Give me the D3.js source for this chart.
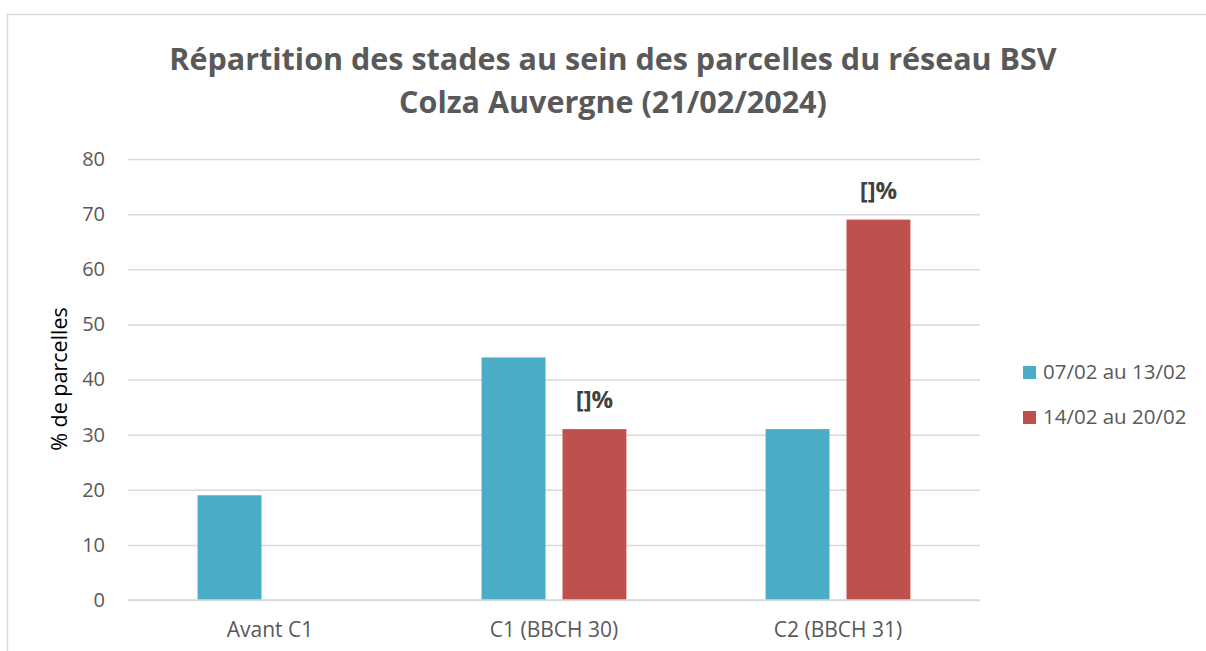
<!DOCTYPE html>
<html>
<head>
<meta charset="utf-8">
<script src="https://cdn.jsdelivr.net/npm/d3@7"></script>
<style>
  html, body { margin: 0; padding: 0; background: #fff; }
  #chart { width: 1206px; height: 651px; }
</style>
</head>
<body>
<div id="chart"></div>
<script>
// ── Data ───────────────────────────────────────
const CATEGORIES = ["Avant C1", "C1 (BBCH 30)", "C2 (BBCH 31)"];
const SERIES     = ["07/02 au 13/02", "14/02 au 20/02"];
const VALUES_S1  = [19, 44, 31];
const VALUES_S2  = [null, 31, 69];
const LABELS_S2  = [null, "[]%", "[]%"];
const Y_TICKS    = [0, 10, 20, 30, 40, 50, 60, 70, 80];
const TITLE      = ["Répartition des stades au sein des parcelles du réseau BSV",
                    "Colza Auvergne (21/02/2024)"];

const COLOR = { "07/02 au 13/02": "#4BACC6", "14/02 au 20/02": "#C0504D" };
const FONT  = "'Open Sans', sans-serif";
const TEXT  = "#595959";

const W = 1206, H = 651;
const plot = { left: 128, right: 980, top: 159, bottom: 600 };

const svg = d3.select("#chart").append("svg").attr("width", W).attr("height", H);

// Frame
svg.append("rect").attr("x", 7.5).attr("y", 14.5).attr("width", 1210).attr("height", 700)
  .attr("fill", "#fff").attr("stroke", "#D9D9D9").attr("stroke-width", 1.5);

// Title
svg.append("g").selectAll("text").data(TITLE).join("text")
  .attr("x", 613).attr("y", (d, i) => 70 + i * 43)
  .attr("text-anchor", "middle").attr("font-family", FONT)
  .attr("font-weight", "bold").attr("font-size", "30.5px").attr("fill", TEXT)
  .text(d => d);

const rows = CATEGORIES.map((c, i) => ({
  cat: c,
  bars: [
    { s: SERIES[0], v: VALUES_S1[i], label: null },
    { s: SERIES[1], v: VALUES_S2[i], label: LABELS_S2[i] }
  ]
}));

const x0 = d3.scaleBand().domain(CATEGORIES).range([plot.left, plot.right])
  .paddingInner(0.49).paddingOuter(0.245);
const x1 = d3.scaleBand().domain(SERIES).range([0, x0.bandwidth()])
  .paddingInner(0.21).paddingOuter(0);
const y = d3.scaleLinear().domain([0, 80]).range([plot.bottom, plot.top]);

// Grid
svg.append("g").attr("transform", `translate(${plot.left},0)`)
  .call(d3.axisLeft(y).tickValues(Y_TICKS).tickSize(-(plot.right - plot.left)).tickFormat(""))
  .call(g => {
    g.select(".domain").remove();
    g.selectAll(".tick line").attr("stroke", "#D9D9D9").attr("stroke-width", 1.5);
  });

// Y tick labels
svg.append("g").attr("transform", `translate(${plot.left},0)`)
  .call(d3.axisLeft(y).tickValues(Y_TICKS).tickSize(0).tickPadding(23))
  .call(g => {
    g.select(".domain").remove();
    g.selectAll("text").attr("font-family", FONT).attr("font-size", "20px").attr("fill", TEXT);
  });

// Bars
const groups = svg.append("g").selectAll("g").data(rows).join("g")
  .attr("transform", d => `translate(${x0(d.cat)},0)`);

groups.selectAll("rect").data(d => d.bars.filter(b => b.v != null)).join("rect")
  .attr("x", d => x1(d.s)).attr("width", x1.bandwidth())
  .attr("y", d => y(d.v)).attr("height", d => y(0) - y(d.v))
  .attr("fill", d => COLOR[d.s]);

groups.selectAll("text.lbl").data(d => d.bars.filter(b => b.label)).join("text")
  .attr("class", "lbl")
  .attr("x", d => x1(d.s) + x1.bandwidth() / 2).attr("y", d => y(d.v) - 21)
  .attr("text-anchor", "middle").attr("font-family", FONT).attr("font-weight", "bold")
  .attr("font-size", "24px").attr("fill", "#404040").text(d => d.label);

// X axis
svg.append("g").attr("transform", `translate(0,${plot.bottom})`)
  .call(d3.axisBottom(x0).tickSize(0).tickPadding(22))
  .call(g => {
    g.select(".domain").attr("stroke", "#D9D9D9").attr("stroke-width", 1.5)
      .attr("d", `M${plot.left},0H${plot.right}`);
    g.selectAll("text").attr("font-family", FONT).attr("font-size", "21px").attr("fill", TEXT);
  });

// Y axis title
svg.append("text").attr("transform", "rotate(-90)")
  .attr("x", -379).attr("y", 67)
  .attr("text-anchor", "middle").attr("font-family", FONT)
  .attr("font-size", "21.5px").attr("fill", "#000").text("% de parcelles");

// Legend
const legend = svg.append("g").attr("transform", "translate(1023,366)");
SERIES.forEach((s, i) => {
  legend.append("rect").attr("x", 0).attr("y", i * 45).attr("width", 13).attr("height", 13)
    .attr("fill", COLOR[s]);
  legend.append("text").attr("x", 20).attr("y", i * 45 + 13)
    .attr("font-family", FONT).attr("font-size", "20.5px").attr("fill", TEXT).text(s);
});
</script>
</body>
</html>
